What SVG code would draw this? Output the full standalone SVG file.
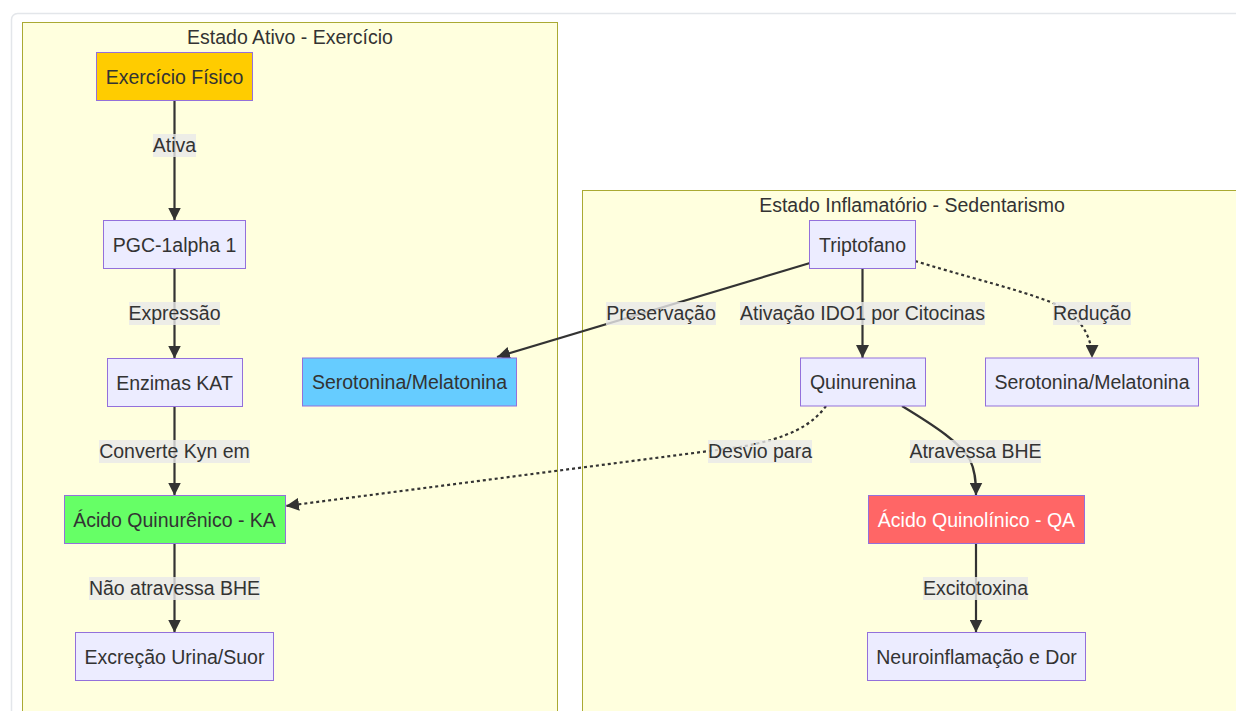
<svg xmlns="http://www.w3.org/2000/svg" width="1236" height="711" viewBox="0 0 1236 711">
<style>
text{font-family:"Liberation Sans",Arial,sans-serif;font-size:19.5px;fill:#333;text-anchor:middle}
.cluster{fill:#ffffde;stroke:#aaaa33;stroke-width:1}
.node rect{fill:#ececff;stroke:#9370db;stroke-width:1}
.edge{fill:none;stroke:#333;stroke-width:2.2}
.dot{stroke-dasharray:3 3}
.lbl{fill:#e8e8e8;fill-opacity:0.8}
</style>
<defs>
<marker id="arr" viewBox="0 0 10 10" refX="10" refY="5" markerWidth="13" markerHeight="13" markerUnits="userSpaceOnUse" orient="auto">
<path d="M0,0 L10,5 L0,10 z" fill="#333"/>
</marker>
</defs>
<rect x="0" y="0" width="1236" height="711" fill="#fff"/>
<rect x="11.5" y="13.5" width="1300" height="800" rx="6" fill="#fff" stroke="#e3e6ea" stroke-width="1.5"/>
<g id="cluster-ativo">
<rect class="cluster" x="22.5" y="22.5" width="535" height="720"/>
<text x="290" y="44">Estado Ativo - Exercício</text>
</g>
<g id="cluster-inflamatorio">
<rect class="cluster" x="582.5" y="190.5" width="700" height="560"/>
<text x="912" y="212">Estado Inflamatório - Sedentarismo</text>
</g>
<g id="edges">
<path class="edge" d="M174.5,100.5 L174.5,220.5" marker-end="url(#arr)"/>
<path class="edge" d="M174.5,268.5 L174.5,358.5" marker-end="url(#arr)"/>
<path class="edge" d="M174.5,406.5 L174.5,495.5" marker-end="url(#arr)"/>
<path class="edge" d="M174.5,543.5 L174.5,632.5" marker-end="url(#arr)"/>
<path class="edge" d="M810,263 L497,357" marker-end="url(#arr)"/>
<path class="edge" d="M862.5,268.5 L862.5,358" marker-end="url(#arr)"/>
<path class="edge dot" d="M915,261 C990,284 1055,298 1072,314 C1086,328 1092,342 1092,358" marker-end="url(#arr)"/>
<path class="edge dot" d="M826,406 C812,425 790,438 740,447 L286,506" marker-end="url(#arr)"/>
<path class="edge" d="M902,406 C935,426 962,444 970,460 C975,470 976,480 976,495.5" marker-end="url(#arr)"/>
<path class="edge" d="M976,543.5 L976,632.5" marker-end="url(#arr)"/>
<rect class="lbl" x="153" y="134" width="43" height="23"/>
<text x="174.5" y="152">Ativa</text>
<rect class="lbl" x="129" y="302" width="91" height="23"/>
<text x="174.5" y="320">Expressão</text>
<rect class="lbl" x="99" y="440" width="151" height="23"/>
<text x="174.5" y="458">Converte Kyn em</text>
<rect class="lbl" x="89" y="577" width="171" height="23"/>
<text x="174.5" y="595">Não atravessa BHE</text>
<rect class="lbl" x="606" y="302" width="110" height="23"/>
<text x="661" y="320">Preservação</text>
<rect class="lbl" x="740" y="302" width="245" height="23"/>
<text x="862.5" y="320">Ativação IDO1 por Citocinas</text>
<rect class="lbl" x="1053" y="302" width="78" height="23"/>
<text x="1092" y="320">Redução</text>
<rect class="lbl" x="708" y="440" width="104" height="23"/>
<text x="760" y="458">Desvio para</text>
<rect class="lbl" x="910" y="440" width="131" height="23"/>
<text x="975.5" y="458">Atravessa BHE</text>
<rect class="lbl" x="923" y="577" width="105" height="23"/>
<text x="975.5" y="595">Excitotoxina</text>
</g>
<g id="exercicio" class="node"><rect x="96.5" y="52.5" width="156" height="48" style="fill:#ffcc00"/><text x="174.5" y="83.5">Exercício Físico</text></g>
<g id="pgc" class="node"><rect x="103.5" y="220.5" width="142" height="48"/><text x="174.5" y="251.5">PGC-1alpha 1</text></g>
<g id="kat" class="node"><rect x="107.5" y="358.5" width="135" height="48"/><text x="174.5" y="389.5">Enzimas KAT</text></g>
<g id="ka" class="node"><rect x="64.5" y="495.5" width="221" height="48" style="fill:#66ff66"/><text x="174.5" y="526.5">Ácido Quinurênico - KA</text></g>
<g id="excrecao" class="node"><rect x="75.5" y="632.5" width="198" height="48"/><text x="174.5" y="663.5">Excreção Urina/Suor</text></g>
<g id="sero-ativo" class="node"><rect x="302.5" y="358" width="214" height="48" style="fill:#66ccff"/><text x="409.5" y="389">Serotonina/Melatonina</text></g>
<g id="triptofano" class="node"><rect x="809.5" y="220.5" width="106" height="48"/><text x="862.5" y="251.5">Triptofano</text></g>
<g id="quinurenina" class="node"><rect x="800.5" y="358" width="125" height="48"/><text x="863" y="389">Quinurenina</text></g>
<g id="sero-infl" class="node"><rect x="985.5" y="358" width="213" height="48"/><text x="1092" y="389">Serotonina/Melatonina</text></g>
<g id="qa" class="node"><rect x="868.5" y="495.5" width="216" height="48" style="fill:#ff6666"/><text x="976.5" y="526.5" style="fill:#fff">Ácido Quinolínico - QA</text></g>
<g id="neuro" class="node"><rect x="867.5" y="632.5" width="218" height="48"/><text x="976.5" y="663.5">Neuroinflamação e Dor</text></g>
</svg>
